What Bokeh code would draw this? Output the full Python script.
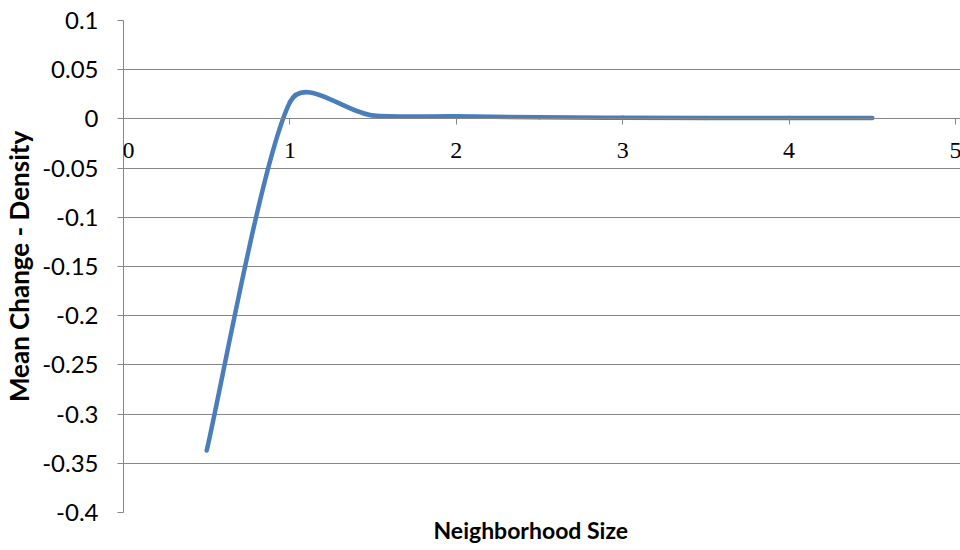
import math
from bokeh.plotting import figure
from bokeh.models import Range1d, FixedTicker, Title, LabelSet, ColumnDataSource
from bokeh.embed import file_html
from bokeh.resources import INLINE

# Mean change in density for each neighborhood size
neighborhood_size = [0.5, 1.0, 1.5, 2.0, 2.5, 3.0, 3.5, 4.0, 4.5]
mean_change_density = [-0.337, 0.017, 0.0035, 0.0027, 0.0016, 0.0012, 0.0010, 0.0010, 0.0010]

x_ticks = [0, 1, 2, 3, 4, 5]
x_tick_labels = ["0", "1", "2", "3", "4", "5"]
y_ticks = [-0.4, -0.35, -0.3, -0.25, -0.2, -0.15, -0.1, -0.05, 0.0, 0.05, 0.1]
y_tick_labels = ["-0.4", "-0.35", "-0.3", "-0.25", "-0.2", "-0.15", "-0.1", "-0.05", "0", "0.05", "0.1"]

X_MIN, X_MAX = 0, 5
Y_MIN, Y_MAX = -0.4, 0.1
PLOT_W, PLOT_H = 832, 492      # pixel size of the 0..5 x -0.4..0.1 area
RIGHT_PAD = 6                  # room for the last x tick label
FONT = "Lato"
GRAY = "#868686"
BLUE = "#4a7ebb"

sx = PLOT_W / (X_MAX - X_MIN)
sy = PLOT_H / (Y_MAX - Y_MIN)

p = figure(
    frame_width=PLOT_W + RIGHT_PAD, frame_height=PLOT_H,
    x_range=Range1d(X_MIN, X_MAX + RIGHT_PAD / sx), y_range=Range1d(Y_MIN, Y_MAX),
    output_backend="svg", toolbar_location=None,
    min_border_left=122, min_border_right=0, min_border_top=20, min_border_bottom=10,
    background_fill_color="white", border_fill_color="white",
)
p.outline_line_color = None
p.xgrid.visible = False
p.ygrid.ticker = FixedTicker(ticks=y_ticks)
p.ygrid.bounds = (X_MIN, X_MAX)
p.ygrid.grid_line_color = GRAY
p.ygrid.grid_line_width = 1

# y axis on the left
ya = p.yaxis[0]
ya.ticker = FixedTicker(ticks=y_ticks)
ya.major_label_overrides = {t: s for t, s in zip(y_ticks, y_tick_labels)}
ya.axis_line_color = GRAY
ya.major_tick_line_color = GRAY
ya.major_tick_in = 0
ya.major_tick_out = 6
ya.minor_tick_line_color = None
ya.major_label_text_font = FONT
ya.major_label_text_font_size = "24px"
ya.major_label_text_color = "black"
ya.major_label_standoff = 19
ya.axis_label = "Mean Change - Density"
ya.axis_label_text_font = FONT
ya.axis_label_text_font_style = "bold"
ya.axis_label_text_font_size = "26px"
ya.axis_label_text_color = "black"
ya.axis_label_standoff = 4

# x axis crossing at y = 0 (line and ticks); its labels are drawn below
xa = p.xaxis[0]
xa.fixed_location = 0
xa.bounds = (X_MIN, X_MAX)
xa.ticker = FixedTicker(ticks=x_ticks)
xa.major_label_overrides = {t: "" for t in x_ticks}
xa.axis_line_color = GRAY
xa.major_tick_line_color = GRAY
xa.major_tick_in = 0
xa.major_tick_out = 6
xa.minor_tick_line_color = None

# the first label is nudged right so it is not hidden at the frame edge
x_label_src = ColumnDataSource(dict(
    x=x_ticks, y=[0] * len(x_ticks), text=x_tick_labels,
    dx=[5, 0, 0, 0, 0, 0],
))
p.add_layout(LabelSet(x="x", y="y", text="text", source=x_label_src,
                      text_align="center", text_baseline="top",
                      x_offset="dx", y_offset=-24,
                      text_font=FONT, text_font_size="24px", text_color="black"))

p.add_layout(Title(text="Neighborhood Size", align="left", offset=310, text_font=FONT,
                   text_font_size="23px", text_font_style="bold",
                   text_color="black", standoff=2), "below")

# Smoothed line: cubic Bezier segments through the data points,
# with tangent handles computed in screen space.
pts = [(x * sx, y * sy) for x, y in zip(neighborhood_size, mean_change_density)]


def dist(a, b):
    return math.hypot(a[0] - b[0], a[1] - b[1])


def handle(prev, nxt, seg_len):
    d = dist(prev, nxt)
    return 0.0 if d == 0 else min(1.0 / 6.0, seg_len / (2.7 * d))


x0, y0, x1, y1, cx0, cy0, cx1, cy1 = ([] for _ in range(8))
n = len(pts)
for i in range(n - 1):
    pa = pts[i - 1] if i > 0 else pts[i]
    pb = pts[i]
    pc = pts[i + 1]
    pd = pts[i + 2] if i + 2 < n else pts[i + 1]
    seg = dist(pb, pc)
    k1 = handle(pa, pc, seg)
    k2 = handle(pb, pd, seg)
    c1 = (pb[0] + (pc[0] - pa[0]) * k1, pb[1] + (pc[1] - pa[1]) * k1)
    c2 = (pc[0] - (pd[0] - pb[0]) * k2, pc[1] - (pd[1] - pb[1]) * k2)
    x0.append(pb[0] / sx); y0.append(pb[1] / sy)
    x1.append(pc[0] / sx); y1.append(pc[1] / sy)
    cx0.append(c1[0] / sx); cy0.append(c1[1] / sy)
    cx1.append(c2[0] / sx); cy1.append(c2[1] / sy)

p.bezier(x0=x0, y0=y0, x1=x1, y1=y1, cx0=cx0, cy0=cy0, cx1=cx1, cy1=cy1,
         line_color=BLUE, line_width=4.5, line_cap="round")

open("out.html", "w").write(file_html(p, INLINE))
